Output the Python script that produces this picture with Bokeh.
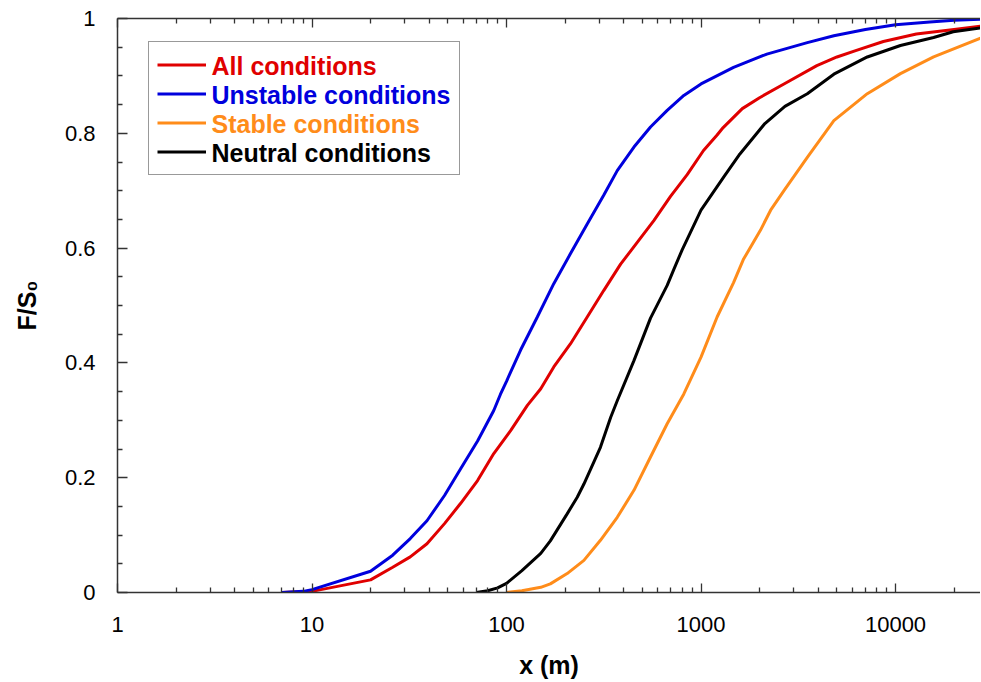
from bokeh.plotting import figure
from bokeh.models import (LogAxis, FixedTicker, NumeralTickFormatter, Legend,
                          LegendItem, Label, Range1d, CustomJSTickFormatter)
from bokeh.embed import file_html
from bokeh.resources import INLINE

# ---------------- data ----------------
unstable_x = [7, 9, 10, 20, 26, 32, 39, 48, 58, 71, 86, 93, 100, 118, 144, 175,
              213, 260, 316, 371, 452, 550, 670, 816, 1000, 1470, 2180, 3520,
              4820, 7000, 10000, 15000, 20000, 28000]
unstable_y = [0, 0.002, 0.005, 0.037, 0.065, 0.094, 0.125, 0.169, 0.215, 0.264,
              0.317, 0.345, 0.368, 0.422, 0.48, 0.538, 0.59, 0.642, 0.692, 0.735,
              0.776, 0.811, 0.84, 0.866, 0.886, 0.915, 0.938, 0.958, 0.970, 0.981,
              0.989, 0.994, 0.997, 0.999]

all_x = [7, 10, 20, 26, 32, 39, 48, 58, 71, 86, 105, 128, 150, 175, 213, 260,
         316, 386, 470, 572, 697, 849, 1030, 1210, 1300, 1630, 2000, 2670, 3940,
         5000, 6240, 8660, 12800, 20000, 28000]
all_y = [0, 0.002, 0.022, 0.044, 0.062, 0.085, 0.12, 0.155, 0.195, 0.242, 0.282,
         0.326, 0.355, 0.393, 0.433, 0.48, 0.526, 0.572, 0.61, 0.648, 0.69, 0.728,
         0.77, 0.797, 0.81, 0.843, 0.862, 0.886, 0.918, 0.933, 0.944, 0.96,
         0.973, 0.981, 0.987]

stable_x = [100, 120, 150, 168, 205, 250, 304, 371, 452, 550, 670, 816, 1000,
            1210, 1470, 1650, 2020, 2280, 2670, 3520, 4820, 7160, 10600, 15700,
            28000]
stable_y = [0, 0.003, 0.009, 0.015, 0.033, 0.056, 0.091, 0.131, 0.178, 0.236,
            0.294, 0.346, 0.41, 0.48, 0.54, 0.58, 0.631, 0.666, 0.70, 0.758,
            0.822, 0.869, 0.904, 0.933, 0.967]

neutral_x = [70, 80, 90, 100, 120, 150, 168, 205, 231, 250, 304, 343, 371, 452,
             550, 670, 725, 800, 1000, 1310, 1585, 2130, 2700, 3520, 4820, 7160,
             10600, 15700, 19800, 28000]
neutral_y = [0, 0.003, 0.008, 0.016, 0.038, 0.068, 0.09, 0.137, 0.166, 0.189,
             0.253, 0.305, 0.334, 0.404, 0.478, 0.535, 0.563, 0.597, 0.666, 0.724,
             0.764, 0.817, 0.847, 0.869, 0.903, 0.933, 0.953, 0.967, 0.977, 0.984]

series_labels = ["All conditions", "Unstable conditions", "Stable conditions",
                 "Neutral conditions"]
series_colors = ["#e00000", "#0000dd", "#ff8c1a", "#000000"]

x_major = [1, 10, 100, 1000, 10000]
x_minor = [m * d for d in [1, 10, 100, 1000, 10000] for m in range(2, 10)]
y_major = [0, 0.2, 0.4, 0.6, 0.8, 1.0]
y_minor = [0.05, 0.1, 0.15, 0.25, 0.3, 0.35, 0.45, 0.5, 0.55, 0.65, 0.7, 0.75,
           0.85, 0.9, 0.95]

FONT = "Liberation Sans"
AXIS_COLOR = "#333333"

# ---------------- figure ----------------
p = figure(width=980, height=681, x_axis_type="log",
           x_range=Range1d(1, 27350), y_range=Range1d(0, 1),
           output_backend="svg", toolbar_location=None,
           min_border_left=117, min_border_right=0, min_border_top=18,
           min_border_bottom=89)
p.grid.visible = False
p.outline_line_color = None
p.background_fill_color = "white"
p.border_fill_color = "white"

xs = [all_x, unstable_x, stable_x, neutral_x]
ys = [all_y, unstable_y, stable_y, neutral_y]
renderers = []
for x, y, c in zip(xs, ys, series_colors):
    renderers.append(p.line(x, y, line_color=c, line_width=3))

xticker = FixedTicker(ticks=x_major, minor_ticks=x_minor)
yticker = FixedTicker(ticks=y_major, minor_ticks=y_minor)

def style_axis(ax):
    ax.axis_line_color = AXIS_COLOR
    ax.axis_line_width = 1.5
    ax.major_tick_line_color = AXIS_COLOR
    ax.minor_tick_line_color = AXIS_COLOR
    ax.major_tick_line_width = 1.3
    ax.minor_tick_line_width = 1.3
    ax.major_tick_in = 9
    ax.major_tick_out = 0
    ax.minor_tick_in = 5
    ax.minor_tick_out = 0
    ax.major_label_text_font = FONT
    ax.major_label_text_font_size = "22px"
    ax.major_label_text_color = "black"
    ax.axis_label_text_font = FONT
    ax.axis_label_text_font_size = "25px"
    ax.axis_label_text_font_style = "bold"
    ax.axis_label_text_color = "black"

xa = p.xaxis[0]
xa.ticker = xticker
xa.formatter = NumeralTickFormatter(format="0")
style_axis(xa)
xa.major_label_standoff = 24
xa.axis_label = "x (m)"
xa.axis_label_standoff = 16

ya = p.yaxis[0]
ya.ticker = yticker
ya.formatter = NumeralTickFormatter(format="0.[0]")
style_axis(ya)
ya.major_tick_in = 10
ya.major_label_standoff = 22
ya.axis_label = "F/S\u2080"
ya.axis_label_standoff = 21

top = LogAxis(ticker=xticker, formatter=CustomJSTickFormatter(code="return ''"))
style_axis(top)
top.major_label_standoff = 0
p.add_layout(top, "above")

# ---------------- legend ----------------
items = [LegendItem(label=l, renderers=[r]) for l, r in zip(series_labels, renderers)]
legend = Legend(items=items, location=(31, 417),
                label_text_font=FONT, label_text_font_size="25px",
                label_text_font_style="bold", label_text_alpha=0,
                glyph_width=49, glyph_height=29, label_height=29,
                label_standoff=6, spacing=0, padding=8, margin=0,
                border_line_color=AXIS_COLOR, border_line_width=1.5,
                background_fill_alpha=0)
p.add_layout(legend)

for i, (l, c) in enumerate(zip(series_labels, series_colors)):
    p.add_layout(Label(x=31 + 8 + 49 + 6, y=417 + 132 - 8 - 14.5 - 29 * i,
                       x_units="screen", y_units="screen", text=l,
                       text_color=c, text_font=FONT, text_font_size="25px",
                       text_font_style="bold", text_baseline="middle",
                       text_align="left"))

open("out.html", "w").write(file_html(p, INLINE))
